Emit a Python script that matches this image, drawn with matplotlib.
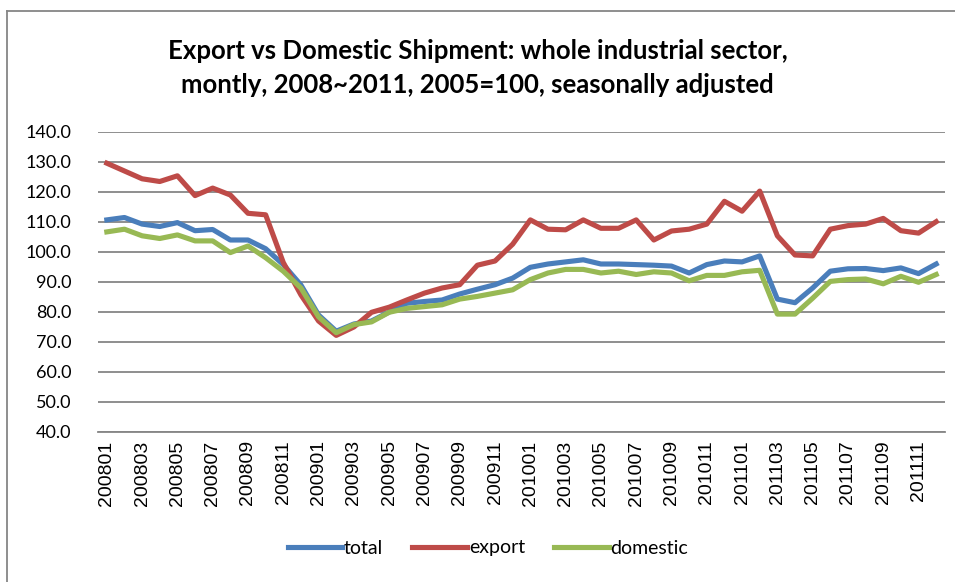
import matplotlib.pyplot as plt
from matplotlib.lines import Line2D

# months 200801 .. 201112
months = ["%d%02d" % (y, m) for y in range(2008, 2012) for m in range(1, 13)]

total = [110.7, 111.5, 109.3, 108.5, 109.8, 107.1, 107.5, 104.0, 104.0, 101.1,
         95.8, 89.0, 79.0, 73.6, 76.0, 77.0, 80.0, 82.9, 83.5, 84.0,
         86.0, 87.6, 89.1, 91.3, 94.9, 96.0, 96.7, 97.4, 96.0, 96.0,
         95.8, 95.6, 95.3, 93.0, 95.8, 97.0, 96.7, 98.7, 84.3, 83.1,
         88.0, 93.6, 94.4, 94.5, 93.8, 94.7, 92.8, 96.0]

export = [129.6, 127.0, 124.4, 123.5, 125.4, 118.8, 121.3, 119.0, 112.9, 112.4,
          96.5, 85.7, 77.0, 72.2, 75.0, 79.9, 81.6, 84.0, 86.3, 88.0,
          89.1, 95.6, 97.0, 102.6, 110.7, 107.6, 107.4, 110.7, 107.9, 107.9,
          110.7, 104.0, 107.0, 107.6, 109.3, 116.9, 113.6, 120.3, 105.4, 99.0,
          98.7, 107.6, 108.8, 109.3, 111.2, 107.1, 106.3, 110.1]

domestic = [106.7, 107.6, 105.4, 104.5, 105.7, 103.7, 103.7, 99.8, 102.0, 98.1,
            93.6, 88.0, 78.4, 73.1, 75.8, 76.7, 79.9, 81.2, 81.8, 82.4,
            84.3, 85.2, 86.3, 87.4, 90.8, 93.0, 94.2, 94.2, 93.0, 93.6,
            92.5, 93.4, 93.0, 90.4, 92.2, 92.2, 93.4, 93.9, 79.3, 79.3,
            84.6, 90.2, 90.8, 91.0, 89.4, 91.9, 89.9, 92.5]

yticks = [40, 50, 60, 70, 80, 90, 100, 110, 120, 130, 140]

fig = plt.figure(figsize=(9.55, 5.82), dpi=100)
ax = fig.add_axes([98 / 955, 1 - 432 / 582, 847 / 955, 300 / 582])

x = range(len(months))
ax.plot(x, total, color="#4A7EBB", lw=3.7, label="total", solid_joinstyle="round")
ax.plot(x, export, color="#BE4B48", lw=3.7, label="export", solid_joinstyle="round")
ax.plot(x, domestic, color="#98B954", lw=3.7, label="domestic", solid_joinstyle="round")

ax.set_xlim(-0.5, len(months) - 0.5)
ax.set_ylim(40, 140)
ax.set_yticks(yticks)
ax.set_yticklabels(["%.1f" % v for v in yticks], fontfamily="Lato", fontsize=13)
ax.set_xticks(list(x)[::2])
ax.set_xticklabels(months[::2], rotation=90, fontfamily="Liberation Sans", fontsize=14)
ax.tick_params(axis="y", length=0, pad=19)
ax.tick_params(axis="x", length=0, pad=6)
ax.grid(axis="y", color="#868686", lw=1.3)
ax.set_axisbelow(True)
for s in ["top", "right", "left"]:
    ax.spines[s].set_visible(False)
ax.spines["bottom"].set_color("#868686")
ax.spines["bottom"].set_linewidth(1.3)

fig.text(0.5, 1 - 68 / 582, "Export vs Domestic Shipment: whole industrial sector,\n"
         "montly, 2008~2011, 2005=100, seasonally adjusted",
         ha="center", va="center", fontfamily="Lato", fontweight="bold",
         fontsize=18.5, linespacing=1.5)

fig.legend(loc="center", bbox_to_anchor=(488 / 955, 1 - 548 / 582), ncol=3,
           frameon=False, prop={"family": "Lato", "size": 14},
           handlelength=2.8, handletextpad=0.1, columnspacing=1.5)

# outer chart border
fig.add_artist(Line2D([7 / 955, 7 / 955], [0, 1 - 11 / 582], color="#868686", lw=1.3))
fig.add_artist(Line2D([7 / 955, 1], [1 - 11 / 582, 1 - 11 / 582], color="#868686", lw=1.3))

fig.savefig("out.png", dpi=100)
